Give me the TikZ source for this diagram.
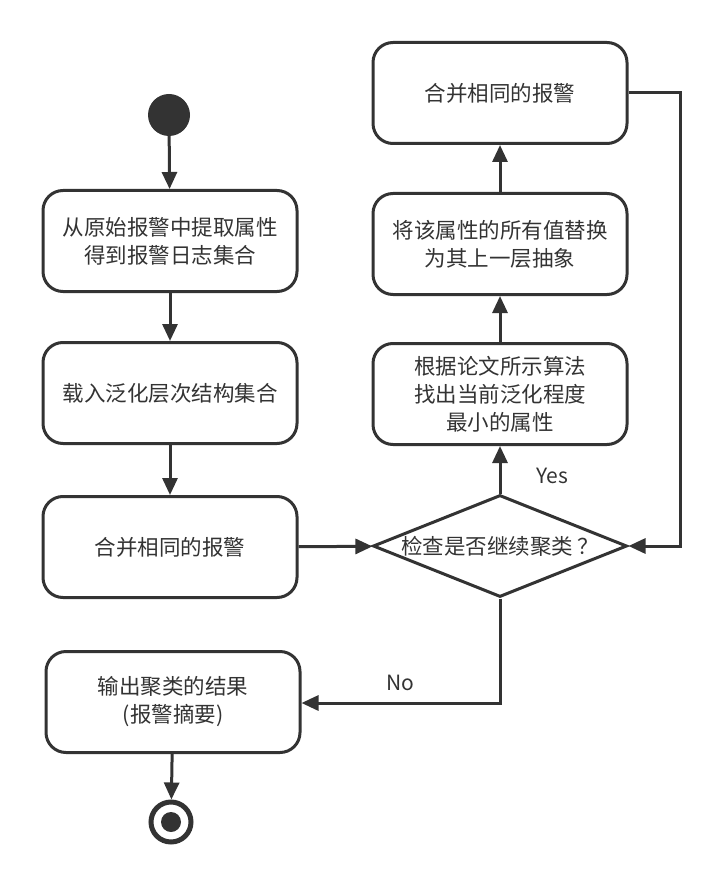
\documentclass[tikz,border=0pt]{standalone}
\usepackage{fontspec}
\setmainfont{Noto Sans CJK SC}
\usetikzlibrary{arrows.meta,shapes.geometric}
\definecolor{ink}{HTML}{333333}
\begin{document}
\begin{tikzpicture}[x=1pt,y=-1pt,
  box/.style={draw=ink,line width=3pt,rounded corners=20pt,minimum width=254pt,minimum height=101pt,align=center,font=\fontsize{21.5}{28}\selectfont,text=ink,inner sep=0pt},
  dec/.style={draw=ink,line width=3pt,diamond,aspect=2.5,minimum width=254pt,minimum height=102pt,inner sep=0pt,font=\fontsize{21.5}{28}\selectfont,text=ink},
  conn/.style={draw=ink,line width=3pt,-{Triangle[length=17pt,width=15pt]}},
  lbl/.style={font=\fontsize{21}{24}\selectfont,text=ink}]
\useasboundingbox (0,0) rectangle (720,885);
\node[circle,fill=ink,minimum size=42pt,inner sep=0pt] (start) at (169,115) {};
\node[box] (b1) at (170,241) {从原始报警中提取属性\\得到报警日志集合};
\node[box] (b2) at (170,393) {载入泛化层次结构集合};
\node[box] (b3) at (170,547) {合并相同的报警};
\node[box] (b4) at (173,702) {输出聚类的结果\\(报警摘要)};
\node[circle,draw=ink,line width=5pt,minimum size=40pt,inner sep=0pt] (endo) at (171,822) {};
\node[circle,fill=ink,minimum size=20pt,inner sep=0pt] (endi) at (171,822) {};
\node[dec] (d) at (500,546) {检查是否继续聚类\,？};
\node[box] (r3) at (500,394) {根据论文所示算法\\找出当前泛化程度\\最小的属性};
\node[box] (r2) at (500,244) {将该属性的所有值替换\\为其上一层抽象};
\node[box] (r1) at (500,93) {合并相同的报警};
\coordinate (c1) at (680,93);
\coordinate (c2) at (680,546);
\coordinate (c3) at (500,703);
\draw[conn] (start) -- (b1);
\draw[conn] (b1) -- (b2);
\draw[conn] (b2) -- (b3);
\draw[conn] (b3) -- (d);
\draw[conn] (d) -- (r3);
\draw[conn] (r3) -- (r2);
\draw[conn] (r2) -- (r1);
\draw[conn] (r1.east) -- (c1) -- (c2) -- (d.east);
\draw[conn] (d.south) -- (c3) -- (b4.east |- c3);
\draw[conn] (b4) -- (endo);
\node[lbl] (yes) at (552,476) {Yes};
\node[lbl] (no) at (400,683) {No};
\end{tikzpicture}
\end{document}
